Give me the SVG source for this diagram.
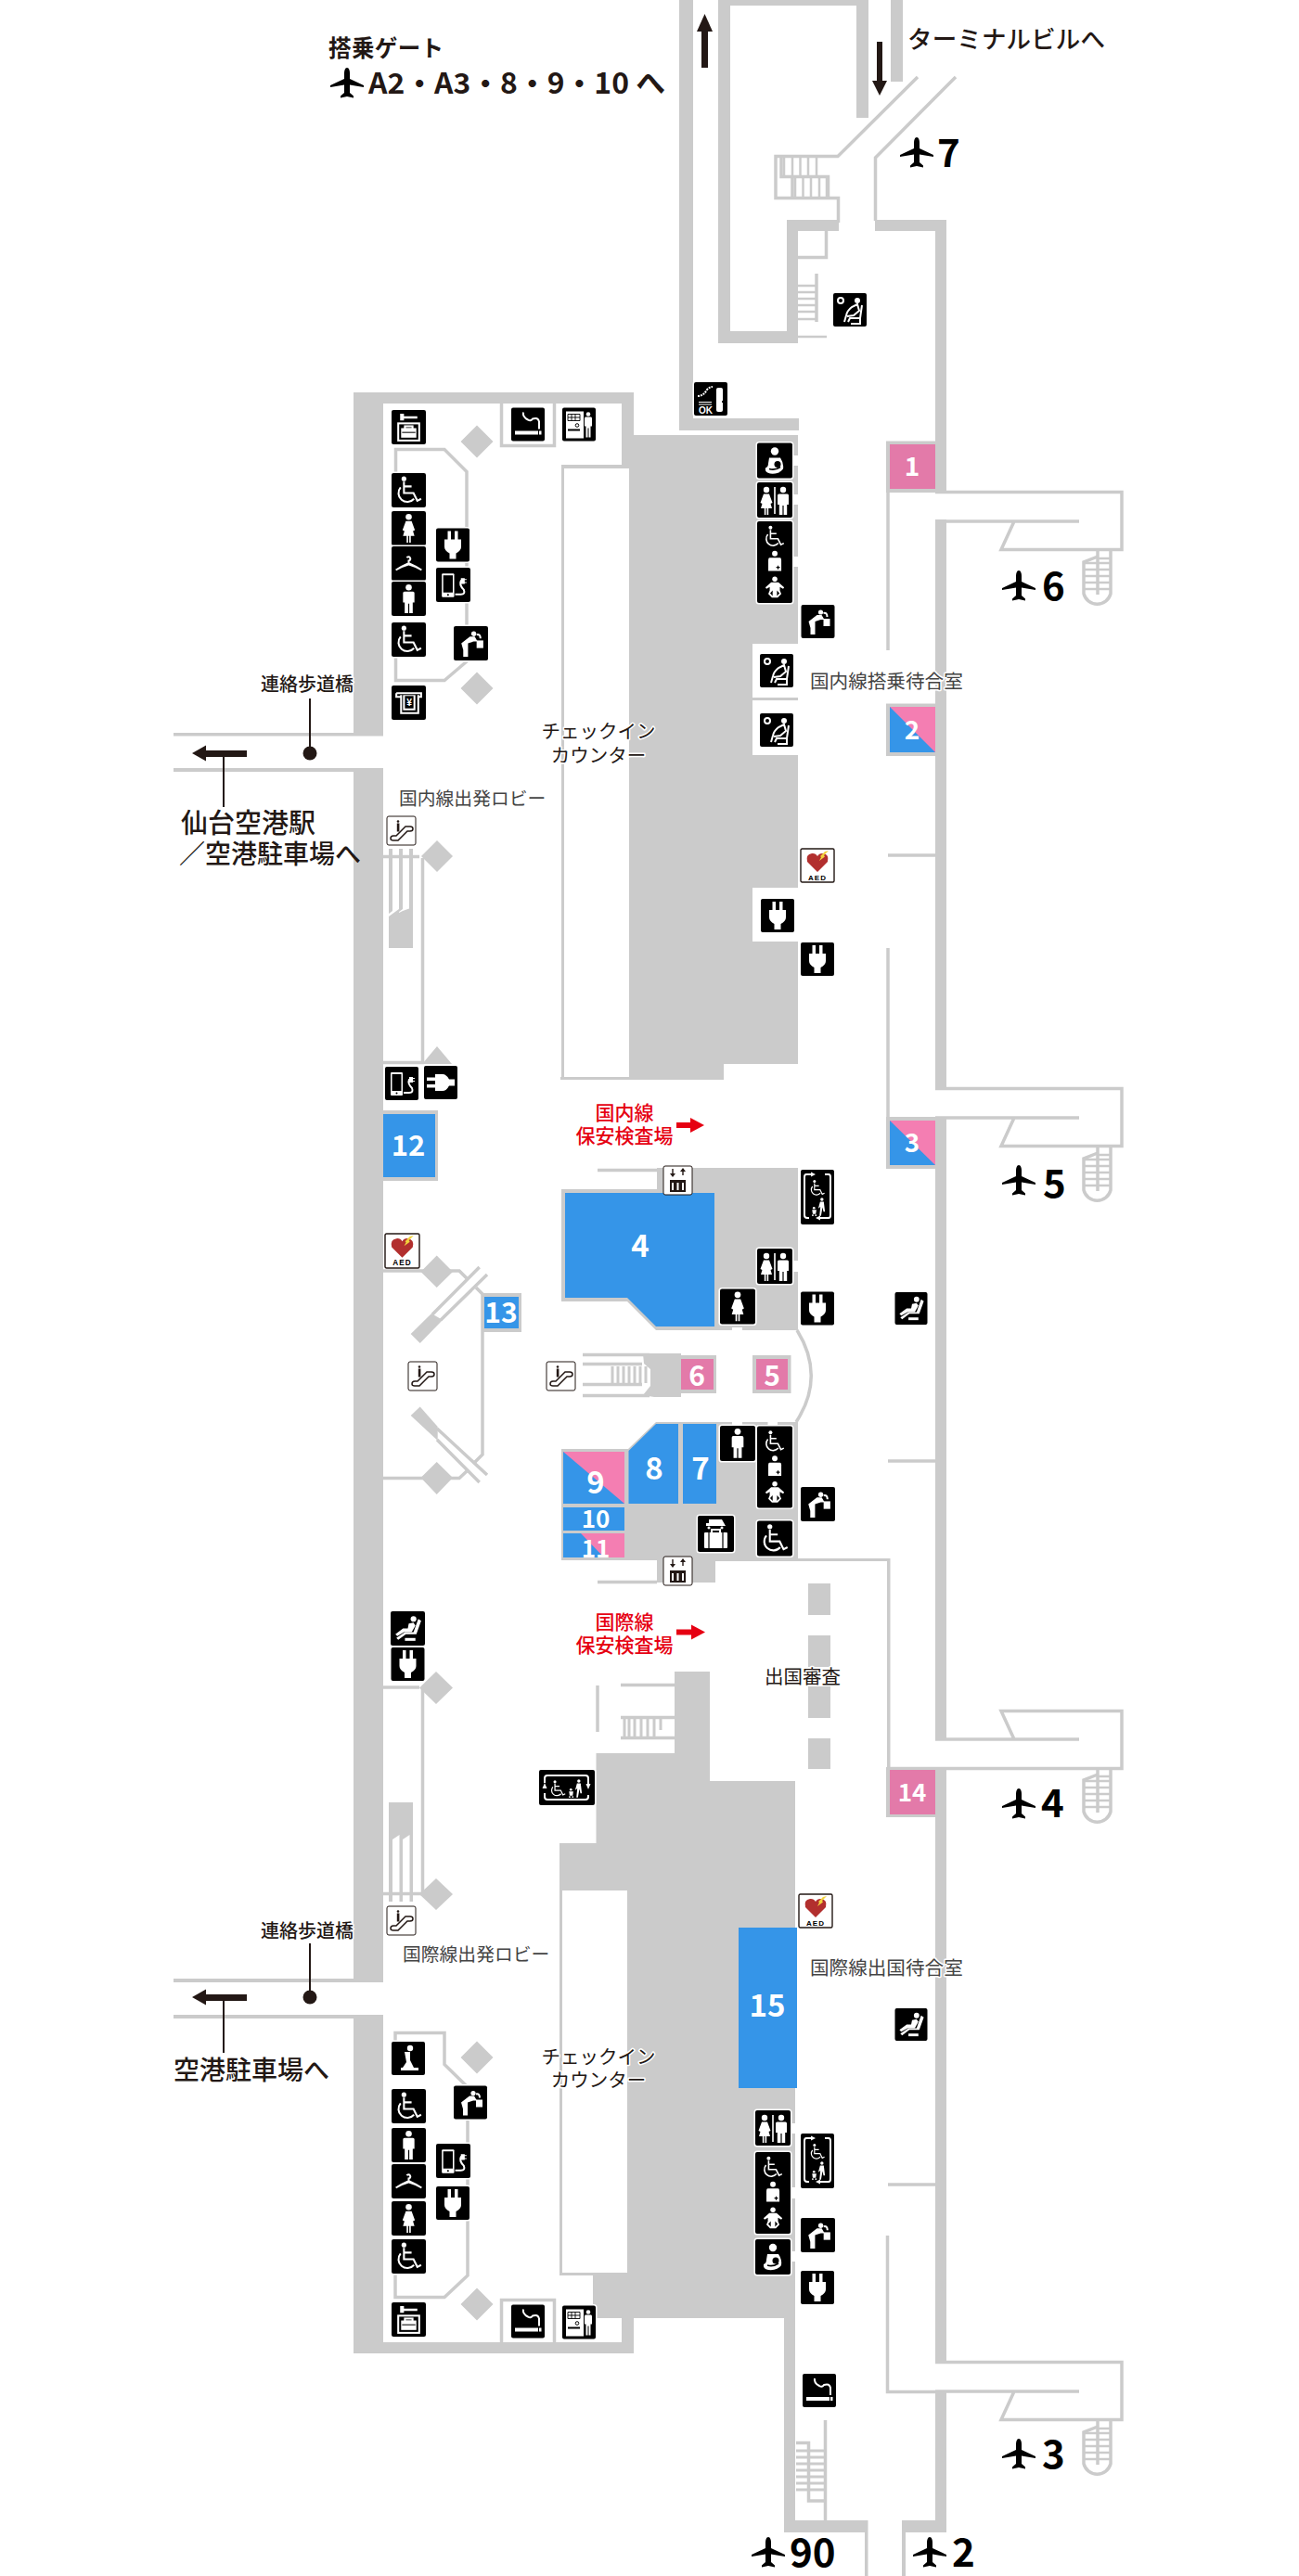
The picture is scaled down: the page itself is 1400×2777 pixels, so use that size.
<svg xmlns="http://www.w3.org/2000/svg" width="1400" height="2777" viewBox="0 0 1400 2777">
<style>
symbol{overflow:visible}
.w{fill:#cbcbcb}
.l{fill:none;stroke:#cbcbcb;stroke-width:3.5}
.bg{fill:#000;stroke:#fff;stroke-width:3;paint-order:stroke}
.wf{fill:#fff}
.ws{fill:none;stroke:#fff;stroke-width:2}
.blue{fill:#3595e8}
.pink{fill:#e37aa9}
.pink2{fill:#f47eb2}
.jp{font-family:"Noto Sans CJK JP","Noto Sans",sans-serif;fill:#231815}
.h{paint-order:stroke;stroke:#fff;stroke-width:3px;stroke-linejoin:round}
.room{font-size:19.800px;fill:#444}
.num{font-family:"Noto Sans CJK JP","Noto Sans",sans-serif;font-weight:700;fill:#fff;text-anchor:middle}
.red{font-size:21px;fill:#e60012;text-anchor:middle;font-weight:500}
.gate{font-size:42px;font-weight:700;fill:#000}
.big{font-size:28px;font-weight:500}
.ln{stroke:#231815;stroke-width:2;fill:none}
.ar{fill:#231815}
</style>
<defs>
<path id="plane" d="M18 0C20 0 21 3 21 6V12L36 19V21L21 18.500V27L25 30.500V32.500L18 31L11 32.500V30.500L15 27V18.500L0 21V19L15 12V6C15 3 16 0 18 0Z" fill="#000"/>
<g id="g-plug" class="wf"><rect x="12.500" y="3" width="3.500" height="10"/><rect x="20" y="3" width="3.500" height="10"/><path d="M9 12H27V20Q27 24 21.500 27V33H14.500V27Q9 24 9 20Z"/></g>
<g id="g-wheel"><circle cx="13" cy="6" r="2.500" class="wf"/><path class="ws" d="M13 9V21H23L27 29L31 27M13 14H21M9.500 15A9 9 0 1 0 23.500 27"/></g>
<g id="g-woman" class="wf"><circle cx="18" cy="6" r="3.200"/><path d="M15 10.500H21L24.500 20L22.500 21L21.500 17.500L24 26H20.200V33H18.600V26H17.400V33H15.800V26H12L14.500 17.500L13.500 21L11.500 20Z"/></g>
<g id="g-man" class="wf"><circle cx="18" cy="6" r="3.200"/><path d="M13.500 10.500H22.500Q24 10.500 24 12V22H22.200V33H18.600V23H17.400V33H13.800V22H12V12Q12 10.500 13.500 10.500Z"/></g>
<g id="g-ost" class="wf"><circle cx="18" cy="6" r="3.800"/><path d="M11 12H25Q27 12 27 15V30H9V15Q9 12 11 12Z"/><path d="M20 24.500h5v1.500h-5zM21.700 22.800h1.500v5h-1.500z" fill="#000"/></g>
<g id="g-baby" class="wf"><circle cx="18" cy="5.500" r="3.500"/><path d="M13 10H23L31 17L29.500 19L25 16.500V21L27 26L22 31H14L9 26L11 21V16.500L6.500 19L5 17Z"/><path d="M15 21L11.500 25L15 29ZM21 21L24.500 25L21 29Z" fill="#000"/></g>
<g id="g-walk" class="wf"><circle cx="24" cy="6" r="2.600"/><path d="M21 10H27L29 26H26.500L25 19L22.500 33H20L21.500 18L18 21Z"/><circle cx="11" cy="20" r="2"/><path d="M8 23H15L14 30H9Z"/><circle cx="9" cy="32" r="1.500"/><circle cx="14" cy="32" r="1.500"/></g>
<symbol id="i-plug" viewBox="0 0 36 36"><rect class="bg" width="36" height="36" rx="2"/><use href="#g-plug"/></symbol>
<symbol id="i-plugh" viewBox="0 0 36 36"><rect class="bg" width="36" height="36" rx="2"/><use href="#g-plug" transform="rotate(-90 18 18)"/></symbol>
<symbol id="i-wheel" viewBox="0 0 36 36"><rect class="bg" width="36" height="36" rx="2"/><use href="#g-wheel"/></symbol>
<symbol id="i-woman" viewBox="0 0 36 36"><rect class="bg" width="36" height="36" rx="2"/><use href="#g-woman"/></symbol>
<symbol id="i-man" viewBox="0 0 36 36"><rect class="bg" width="36" height="36" rx="2"/><use href="#g-man"/></symbol>
<symbol id="i-hanger" viewBox="0 0 36 36"><rect class="bg" width="36" height="36" rx="2"/><path class="ws" d="M16 12A2 2 0 1 1 18 15V17" stroke-width="1.400"/><path class="wf" d="M18 16.500Q26 20 32 24L31 25.500Q25 22 18 20Q11 22 5 25.500L4 24Q10 20 18 16.500Z"/></symbol>
<symbol id="i-water" viewBox="0 0 36 36"><rect class="bg" width="36" height="36" rx="2"/><circle class="wf" cx="21" cy="8" r="2.600"/><path class="wf" d="M8 18L17 11H22L25 16H21L15 18V32H10V25Z"/><path class="wf" d="M24 15H31V23H24Z"/><path class="ws" d="M24 9Q28 8 28 13" stroke-width="1"/></symbol>
<symbol id="i-wait" viewBox="0 0 36 36"><rect class="bg" width="36" height="36" rx="2"/><circle class="ws" cx="8" cy="8" r="3" stroke-width="1.200"/><circle class="wf" cx="26" cy="8" r="3"/><path class="ws" d="M12 31L14 24Q15 19 20 15L26 12L28 19L22 24L15 25M16 31L18 27H29L31 13M29 27V33H19" stroke-width="1.600"/></symbol>
<symbol id="i-massage" viewBox="0 0 36 36"><rect class="bg" width="36" height="36" rx="2"/><circle class="wf" cx="24" cy="8" r="3"/><path class="wf" d="M19 13L24 12L26 15L22 22H14L7 26L5 24L13 18H18Z"/><path class="wf" d="M29 8L32 10L27 24H16L8 30L6 28L15 22H24Z"/><path class="wf" d="M15 28H26V31H15Z"/></symbol>
<symbol id="i-key" viewBox="0 0 36 36"><rect class="bg" width="36" height="36" rx="2"/><path class="wf" d="M9 4H13V6.500H27V9H13V11H9Z"/><rect class="ws" x="7" y="14" width="22" height="18"/><rect class="wf" x="10" y="19" width="16" height="10"/><rect class="ws" x="14" y="17" width="8" height="3" stroke-width="1"/><rect x="11" y="23" width="14" height="1" fill="#000"/></symbol>
<symbol id="i-smoke" viewBox="0 0 36 36"><rect class="bg" width="36" height="36" rx="2"/><rect class="wf" x="4" y="25" width="25" height="4"/><rect class="wf" x="30" y="25" width="2.500" height="4"/><path class="ws" d="M13 5Q12 10 18 13Q21 15 23 12Q29 10 30 15V23"/></symbol>
<symbol id="i-vend" viewBox="0 0 36 36"><rect class="bg" width="36" height="36" rx="2"/><rect class="wf" x="4" y="4" width="19" height="29"/><path d="M6 7H19V14H6ZM10 7V14M14 7V14M6 10.500H19" fill="#fff" stroke="#000" stroke-width=".9"/><circle cx="16" cy="19" r="1.800" fill="none" stroke="#000"/><rect x="6" y="23" width="13" height="2" fill="#000"/><circle class="wf" cx="28" cy="7" r="2.300"/><path class="wf" d="M25 10H31Q32 10 32 12V20H30.500V32H28.500V22H27.500V32H25.500V20H24V12Q24 10 25 10Z"/></symbol>
<symbol id="i-phone" viewBox="0 0 36 36"><rect class="bg" width="36" height="36" rx="2"/><rect class="wf" x="6" y="6" width="13" height="25" rx="1"/><rect x="7.500" y="8" width="10" height="18" fill="#000"/><circle cx="12.500" cy="28.500" r="1" fill="#000"/><path class="ws" d="M20 28H26Q31 28 29 23Q24 18 26 14H28" stroke-width="1.300"/><path class="wf" d="M26 11h4v1h2v1h-2v2h2v1h-2v1h-4z"/></symbol>
<symbol id="i-atm" viewBox="0 0 36 36"><rect class="bg" width="36" height="36" rx="2"/><path class="ws" d="M5 8H31V12H27M5 8V12H9M10 10V29H28V10" stroke-width="1.600"/><rect class="wf" x="12" y="10" width="13" height="16"/><rect x="14" y="11" width="9" height="13" fill="#000"/><text x="18.500" y="21" font-size="10" font-weight="700" fill="#fff" text-anchor="middle" font-family="Liberation Sans,sans-serif">¥</text></symbol>
<symbol id="i-nurse" viewBox="0 0 38 38"><rect class="bg" width="38" height="38" rx="2"/><circle class="wf" cx="19" cy="9" r="4.200"/><path class="wf" d="M13 16H25Q29 22 28 28Q24 34 14 33Q8 32 9 27Q12 26 12 22Z"/><circle cx="22" cy="23" r="3.500" fill="#000"/><path d="M13 28Q19 30 25 26" stroke="#000" stroke-width="1.600" fill="none"/></symbol>
<symbol id="i-wc" viewBox="0 0 38 38"><rect class="bg" width="38" height="38" rx="2"/><use href="#g-woman" transform="translate(-8,2)"/><use href="#g-man" transform="translate(10,2)"/><rect class="wf" x="18.200" y="5" width="1.600" height="29"/></symbol>
<symbol id="i-three" viewBox="0 0 38 88"><rect class="bg" width="38" height="88" rx="2"/><use href="#g-wheel" transform="translate(4,2) scale(.8)"/><use href="#g-ost" transform="translate(5,30) scale(.78)"/><use href="#g-baby" transform="translate(5,58) scale(.78)"/></symbol>
<symbol id="i-elevv" viewBox="0 0 36 59"><rect class="bg" width="36" height="59" rx="2"/><path class="ws" d="M11 5H6Q4 5 4 8V49Q4 52 7 52H9M26 5H30Q32 5 32 8V49Q32 52 30 52H18" stroke-width="1.400"/><path class="wf" d="M11 2.500L16 5L11 7.500ZM21 49.500L16 52L21 54.500Z"/><use href="#g-wheel" transform="translate(7,9) scale(.6)"/><use href="#g-walk" transform="translate(7,28) scale(.66)"/></symbol>
<symbol id="i-elevh" viewBox="0 0 60 38"><rect class="bg" width="60" height="38" rx="2"/><path class="ws" d="M6 14V9Q6 6 9 6H50Q53 6 53 9V15M6 25V29Q6 32 9 32H50Q53 32 53 29V27" stroke-width="1.400"/><path class="wf" d="M3.500 20L6 14L8.500 20ZM50.500 15L53 21L55.500 15Z"/><use href="#g-wheel" transform="translate(9,9) scale(.62)"/><use href="#g-walk" transform="translate(27,8) scale(.66)"/></symbol>
<symbol id="i-aed" viewBox="0 0 36 36"><rect width="36" height="36" rx="1.500" fill="#fff" stroke="#231815" stroke-width="1.400"/><path d="M18 25L7 14Q5 6 12 5Q16 4.500 18 8Q20 4.500 24 5Q31 6 29 14Z" fill="#b22f2e"/><path d="M30 2L25 7L26 8.500L20 13L22 9L21 8L26 3Z" fill="#f2d33c"/><text x="18" y="33.500" font-size="8" font-weight="700" text-anchor="middle" fill="#000" letter-spacing="1" font-family="Liberation Sans,sans-serif">AED</text></symbol>
<symbol id="i-esc" viewBox="0 0 31 31"><rect width="31" height="31" rx="2" fill="#fff" stroke="#231815" stroke-width="1"/><path d="M4 24Q4 21 7 21H10L20 11H25Q28 11 28 13.500Q28 16 25 16H22L12 26H7Q4 26 4 24Z" fill="none" stroke="#231815" stroke-width="1.500"/><circle cx="12" cy="5.500" r="1.300" fill="#231815"/><rect x="10.800" y="7.500" width="2.600" height="9" fill="#231815"/></symbol>
<symbol id="i-lift" viewBox="0 0 31 31"><rect width="31" height="31" rx="2" fill="#fff" stroke="#231815" stroke-width="1"/><path d="M10 3V10M21 10V3" stroke="#231815" stroke-width="1.400"/><path d="M7 8L10 12L13 8ZM18 6L21 2L24 6Z" fill="#231815"/><rect x="7" y="15" width="17" height="13" fill="#231815"/><path d="M9 18h2v8h-2zM14.500 18h2v8h-2zM20 18h2v8h-2z" fill="#fff"/></symbol>
<symbol id="i-bag" viewBox="0 0 39 39"><rect class="bg" width="39" height="39" rx="2"/><path class="wf" d="M12 4H26L30 11H9V8H12ZM12 11.500a1.500 1.500 0 1 0 .01 0ZM26 11.500a1.500 1.500 0 1 0 .01 0Z"/><path class="ws" d="M15 18V15H24V18" stroke-width="1.600"/><rect class="wf" x="7" y="18" width="25" height="17" rx="1"/><path d="M12 18V35M27 18V35" stroke="#000" stroke-width="1.200"/></symbol>
<symbol id="i-kneel" viewBox="0 0 36 36"><rect class="bg" width="36" height="36" rx="2"/><circle class="wf" cx="20" cy="7" r="3.200"/><path class="wf" d="M14 11H20V20L24 28H29V31H10V28H12L16 22Z"/></symbol>
<symbol id="i-ok" viewBox="0 0 36 36"><rect class="bg" width="36" height="36" rx="2"/><path class="ws" d="M4 15Q10 15 14 8Q17 5 20 5" stroke-width="1" stroke-dasharray="2 1"/><rect class="wf" x="24" y="6" width="7" height="26" rx="2"/><path d="M30 20h1v2h-1z" fill="#000"/><path class="wf" d="M5 21h14v1H5zM5 23.500h14v1H5z"/><text x="12.500" y="34" font-size="10" font-weight="700" fill="#fff" text-anchor="middle" font-family="Liberation Sans,sans-serif">OK</text></symbol>
<g id="stair"><path class="l" d="M1197 594V640A15 15 0 0 1 1168 640V606L1183 600"/><path class="l" d="M1183 594V641"/><path d="M1168 607H1197M1183 602H1197M1168 614H1197M1168 621H1197M1168 628H1197M1168 635H1197" stroke="#cbcbcb" stroke-width="2.500"/></g>
<g id="jet"><path class="l" d="M1008 530.500H1209V592.500H1079L1093 562M1008 562H1163"/><use href="#stair"/></g>
</defs>

<g id="connectors">
<rect class="w" x="732" y="0" width="15" height="464"/><rect class="w" x="732" y="451" width="129" height="13"/>
<rect class="w" x="774" y="0" width="13" height="370"/><rect class="w" x="774" y="0" width="162" height="6"/>
<rect class="w" x="923" y="0" width="13" height="127"/><rect class="w" x="960" y="0" width="13" height="88"/>
<rect class="w" x="774" y="357" width="86" height="13"/><rect class="w" x="848" y="237" width="12" height="133"/><rect class="w" x="848" y="237" width="56" height="12"/>
<path class="l" d="M989 83L903 168.500H836V213.500H903.500V240"/><path class="l" d="M1030 83L943.500 170V238"/>
<path class="l" d="M842 170V190.500H892.500V213M854 190.500V213" stroke-width="2.500"/>
<path d="M845 170v20M854 170v20M862.500 170v20M871 170v20M880 170v20M857 192v20M865.500 192v20M874 192v20M883 192v20M891 192v20" stroke="#cbcbcb" stroke-width="2.500"/>
<path class="l" d="M860 277.500H890.500V249" stroke-width="2.500"/><path class="l" d="M880 295V347" stroke-width="2.500"/>
<path d="M860 308H879M860 315H879M860 322H879M860 329H879M860 336H879M860 344H879M860 363H891" stroke="#cbcbcb" stroke-width="2.500"/>
<rect class="w" x="943" y="237" width="76" height="12"/>
<rect class="w" x="1008" y="237" width="12" height="292"/><rect class="w" x="1008" y="560" width="12" height="613"/><rect class="w" x="1008" y="1205" width="12" height="670"/><rect class="w" x="1008" y="1906" width="12" height="640"/><rect class="w" x="1008" y="2578" width="12" height="152"/>
<use href="#jet"/><use href="#jet" y="643"/><use href="#jet" y="2016"/>
<path class="l" d="M1008 1875H1163M1093 1875L1079 1844.500H1209V1906.500H957"/><use href="#stair" y="1313"/>

<rect class="w" x="381" y="423" width="32" height="370"/><rect class="w" x="381" y="828" width="32" height="1309"/><rect class="w" x="381" y="2172" width="32" height="365"/>
<rect class="w" x="381" y="423" width="302" height="12"/><rect class="w" x="670" y="423" width="13" height="82"/>
<rect class="w" x="187" y="790" width="226" height="3.500"/><rect class="w" x="187" y="828" width="226" height="4"/><rect class="w" x="187" y="2133" width="226" height="4"/><rect class="w" x="187" y="2172" width="226" height="4"/>
<path class="l" d="M540.500 435V480.500H597.500V435"/>
<path class="l" d="M426.500 510V484.500H479L503 508.500V713L479 733.500H426.500V700"/>
<path class="w" d="M514 458.500L531.500 476L514 493.500L496.500 476ZM514 724.500L531.500 742L514 759.500L496.500 742Z"/>

<path class="w" d="M678 469H860V1147H780V1164H604V1161H678V505H608V1161H605V501H678Z"/>
<rect fill="#fff" x="811" y="694" width="49.500" height="58"/><rect fill="#fff" x="811" y="755" width="49.500" height="59"/><rect fill="#fff" x="811" y="957" width="49.500" height="58"/>
<rect fill="#fff" x="855" y="491" width="6" height="11"/><rect fill="#fff" x="855" y="533" width="6" height="11"/><rect fill="#fff" x="855" y="600" width="6" height="11"/>

<path class="l" d="M413 923.500H452M455.500 925V1145.500H413"/><path class="w" d="M471 906L488 923L471 940L454 923ZM471 1128L487 1147H455Z"/>
<path class="w" d="M419 985L423 982V915H419ZM430 983L434 980V915H430ZM441 985L445 982V915H441Z"/><path class="w" d="M419 988L430 980V984L434 982L445 978V1022H419Z"/>

<path class="l" d="M413 1370H495L503 1378M513 1388L520 1395V1568L511 1577M503 1586L495 1593.500H413"/>
<path class="w" d="M470.700 1353.500L488 1371L470.700 1388L453.500 1371ZM470.700 1576L488 1593L470.700 1611L453.500 1593Z"/>
<path class="l" d="M516.700 1366L466 1417M525 1374L475 1423"/><path class="w" d="M442.700 1438L452.700 1448L477 1423L465 1416Z"/>
<path class="l" d="M516.700 1598L471 1552M525 1590L471 1540"/><path class="w" d="M442.700 1526L452.700 1516.500L471.700 1538V1553Z"/>

<path class="w" d="M708 1259H860V1434H707L676 1403H605V1282H708Z"/>
<rect fill="#fff" x="854" y="1359" width="7" height="12"/>
<rect fill="#fff" x="789" y="1431" width="11" height="4"/>
<path class="l" d="M644 1261.500H708"/>
<path class="l" d="M859 1434Q890 1484 858 1533"/>
<path class="w" d="M707 1533H860V1680H958V1683H771V1706H708V1682H605V1562H677Z"/>
<rect fill="#fff" x="789" y="1532" width="11" height="4"/><rect fill="#fff" x="827.500" y="1532" width="10.500" height="4"/>
<path class="l" d="M644 1705.500H708"/>
<rect class="w" x="956" y="1680" width="3.500" height="226"/>
<path class="l" d="M957 527V701" /><path class="l" d="M957 1022V1206"/><path class="l" d="M957 922H1008M957 1575H1008M957 2355H1008"/><path class="l" d="M956.500 2410V2578.500H1008"/>

<path class="l" d="M628 1460.500H700M628 1470.500H692M628 1492.500H692M628 1504.500H700" />
<path d="M660 1473v18M666 1473v18M672 1473v18M678 1473v18M684 1473v18M690 1473v18M696 1473v18" stroke="#cbcbcb" stroke-width="3"/>
<path class="w" d="M693 1459H734V1506H705L693 1504L701 1494V1476L694 1470Z"/>

<path class="l" d="M669 1816.500H727M669 1851.500H727M669 1873.500H727M644 1817V1867"/>
<path d="M673 1853v19M678 1853v19M684 1853v19M691 1853v19M698 1853v19M705 1853v19M712 1853v12" stroke="#cbcbcb" stroke-width="3"/>
<path class="w" d="M727 1802H765V1920H857V2730H845V2499H639V2453H603V1987H642.500V1890H727Z"/>
<rect fill="#fff" x="606" y="2038" width="70" height="412"/>
<rect fill="#fff" x="853" y="2289" width="5" height="11"/><rect fill="#fff" x="853" y="2358" width="5" height="12"/><rect fill="#fff" x="853" y="2427" width="5" height="11"/>
<rect class="w" x="871" y="1707" width="24" height="34"/><rect class="w" x="871" y="1763" width="24" height="34"/><rect class="w" x="871" y="1818" width="24" height="34"/><rect class="w" x="871" y="1874" width="24" height="33"/>

<path class="l" d="M413 1819H452M455.500 1819V2041.500H413"/><path class="w" d="M470 1802L488 1819.500L470 1837L452 1819.500ZM470 2025L488 2042L470 2059L452 2042Z"/>
<path class="w" d="M419 1943H445V2050H441.500V1978L434 1983V2050H430.500V1978L423 1983V2050H419Z"/>

<path class="l" d="M426 2238V2191.500H479V2225.500L504 2250V2453L479 2476.500H426V2451"/>
<path class="w" d="M514 2200.500L531.500 2218L514 2235.500L496.500 2218ZM514 2466.500L531.500 2484L514 2501.500L496.500 2484Z"/>
<path class="l" d="M540.500 2525V2479.500H597.500V2525"/>
<rect class="w" x="381" y="2525" width="302" height="12"/><rect class="w" x="670" y="2499" width="13" height="38"/>
<rect class="w" x="845" y="2717" width="90" height="13"/><rect class="w" x="932" y="2717" width="3.500" height="60"/><rect class="w" x="972" y="2717" width="48" height="13"/><rect class="w" x="972" y="2717" width="4" height="60"/>
<path class="l" d="M889.500 2609V2717M858 2633.500H871.500V2696H889" stroke-width="3"/>
<path d="M858 2642h12M858 2649h12M858 2656h12M858 2663h12M858 2670h12M858 2677h12M858 2684h12M873 2642h15M873 2649h15M873 2656h15M873 2663h15M873 2670h15M873 2677h15M873 2684h15" stroke="#cbcbcb" stroke-width="3"/>
<rect class="ar" x="756" y="30" width="7" height="43"/><path class="ar" d="M759.500 15L768 34H751Z"/>
<rect class="ar" x="945" y="45" width="6" height="44"/><path class="ar" d="M948 103L956 87H940Z"/>
<path class="ar" d="M207 812L222 803.500V809H266V816H222V820.500Z"/><path class="ar" d="M207 2153L222 2144.500V2150H266V2157H222V2161.500Z"/>
<path class="ln" d="M241 816V870M241 2157V2213M334 753V812M334 2095V2153"/><circle class="ar" cx="334" cy="812" r="7.500"/><circle class="ar" cx="334" cy="2153" r="7.500"/>
<path d="M729 1213H748" stroke="#e60012" stroke-width="6"/><path d="M759 1213L744 1205V1221Z" fill="#e60012"/>
<path d="M729 1759.500H748" stroke="#e60012" stroke-width="6"/><path d="M760 1759.500L745 1751.500V1767.500Z" fill="#e60012"/>
</g>

<g id="gate-1"><rect class="w" x="955" y="475.500" width="53" height="55.500"/><rect class="pink" x="959" y="479" width="49" height="48"/><text class="num" x="983" y="513" font-size="28">1</text></g>
<g id="gate-2"><rect class="w" x="955" y="758.500" width="53" height="56.500"/><rect class="blue" x="959" y="762" width="49" height="49"/><path class="pink2" d="M959 762H1008V811Z"/><text class="num" x="983" y="797" font-size="28">2</text></g>
<g id="gate-3"><rect class="w" x="955" y="1204" width="53" height="56"/><rect class="blue" x="959" y="1208" width="49" height="48"/><path class="pink2" d="M959 1208H1008V1256Z"/><text class="num" x="983" y="1242" font-size="28">3</text></g>
<g id="gate-12"><rect class="w" x="413" y="1197" width="59" height="76"/><rect class="blue" x="413" y="1201" width="56" height="68"/><text class="num" x="440" y="1246" font-size="31">12</text></g>
<g id="gate-13"><rect class="w" x="519" y="1394" width="43" height="42"/><rect class="blue" x="522" y="1398" width="37" height="34"/><text class="num" x="540" y="1426" font-size="30">13</text></g>
<g id="gate-4"><path class="blue" d="M609 1286H770V1430H707L676 1399H609Z"/><text class="num" x="690" y="1355" font-size="33">4</text></g>
<g id="gate-6"><rect class="w" x="734" y="1461" width="38" height="41"/><rect class="pink" x="734" y="1465" width="35" height="33"/><text class="num" x="751" y="1494" font-size="30">6</text></g>
<g id="gate-5"><rect class="w" x="811" y="1461" width="41.500" height="41"/><rect class="pink" x="815" y="1465" width="34" height="33"/><text class="num" x="832" y="1494" font-size="30">5</text></g>
<g id="gate-9"><rect class="blue" x="607" y="1565" width="66" height="56"/><path class="pink2" d="M607 1565H673V1621Z"/><text class="num" x="642" y="1610" font-size="33">9</text></g>
<g id="gate-8"><path class="blue" d="M677.500 1564L707 1535H731V1621H677.500Z"/><text class="num" x="705" y="1595" font-size="33">8</text></g>
<g id="gate-7"><rect class="blue" x="736" y="1535" width="36" height="86"/><text class="num" x="755" y="1595" font-size="33">7</text></g>
<g id="gate-10"><rect class="blue" x="607" y="1625" width="66" height="25"/><text class="num" x="642" y="1647" font-size="26">10</text></g>
<g id="gate-11"><rect class="blue" x="607" y="1653" width="66" height="26"/><path class="pink2" d="M626 1653H673V1679H651Z"/><text class="num" x="642" y="1679" font-size="26">11</text></g>
<g id="gate-14"><rect class="w" x="955" y="1905" width="53" height="54"/><rect class="pink" x="959" y="1908" width="49" height="48"/><text class="num" x="983" y="1942" font-size="26">14</text></g>
<g id="gate-15"><rect class="blue" x="796" y="2078" width="63" height="173"/><text class="num" x="827" y="2174" font-size="33">15</text></g>

<g id="icons">
<use href="#i-key" x="422" y="442" width="37" height="37"/><use href="#i-smoke" x="551" y="439" width="36" height="37"/><use href="#i-vend" x="606" y="439" width="36" height="37"/>
<use href="#i-wheel" x="422" y="510" width="37" height="37"/><use href="#i-woman" x="422" y="551" width="37" height="37"/><use href="#i-hanger" x="422" y="589" width="37" height="37"/><use href="#i-man" x="422" y="627" width="37" height="37"/><use href="#i-wheel" x="422" y="671" width="37" height="37"/><use href="#i-atm" x="422" y="739" width="37" height="37"/>
<use href="#i-plug" x="470" y="569" width="36" height="37"/><use href="#i-phone" x="470" y="612" width="37" height="37"/><use href="#i-water" x="489" y="675" width="37" height="37"/>
<use href="#i-esc" x="417" y="880" width="31" height="31"/>
<use href="#i-ok" x="748" y="412" width="36" height="36"/>
<use href="#i-wait" x="898" y="316" width="36" height="36"/>
<use href="#i-nurse" x="816" y="477" width="38" height="39"/><use href="#i-wc" x="816" y="520" width="38" height="38"/><use href="#i-three" x="816" y="562" width="38" height="88"/>
<use href="#i-water" x="863" y="652" width="37" height="36"/><use href="#i-wait" x="819" y="705" width="36" height="36"/><use href="#i-wait" x="819" y="769" width="36" height="36"/>
<use href="#i-aed" x="863" y="915" width="36" height="36"/><use href="#i-plug" x="820" y="969" width="36" height="36"/><use href="#i-plug" x="863" y="1016" width="36" height="36"/>
<use href="#i-phone" x="415" y="1150" width="36" height="36"/><use href="#i-plugh" x="457" y="1149" width="36" height="36"/>
<use href="#i-aed" x="415" y="1330" width="37" height="37"/><use href="#i-esc" x="440" y="1468" width="31" height="31"/><use href="#i-esc" x="589" y="1468" width="31" height="31"/>
<use href="#i-lift" x="715" y="1257" width="31" height="31"/><use href="#i-elevv" x="863" y="1261" width="36" height="59"/><use href="#i-wc" x="816" y="1346" width="38" height="38"/><use href="#i-woman" x="776" y="1389" width="38" height="39"/><use href="#i-plug" x="863" y="1392" width="36" height="37"/>
<use href="#i-massage" x="964" y="1393" width="36" height="35"/>
<use href="#i-man" x="776" y="1537" width="38" height="38"/><use href="#i-three" x="816" y="1537" width="38" height="89"/><use href="#i-water" x="863" y="1603" width="37" height="37"/><use href="#i-wheel" x="816" y="1639" width="38" height="39"/><use href="#i-bag" x="752" y="1634" width="39" height="39"/><use href="#i-lift" x="715" y="1678" width="31" height="31"/>
<use href="#i-massage" x="421" y="1737" width="37" height="37"/><use href="#i-plug" x="421" y="1776" width="37" height="36"/>
<use href="#i-elevh" x="581" y="1908" width="60" height="38"/><use href="#i-esc" x="417" y="2055" width="31" height="31"/><use href="#i-aed" x="861" y="2042" width="36" height="36"/><use href="#i-massage" x="964" y="2165" width="36" height="35"/>
<use href="#i-kneel" x="422" y="2201" width="36" height="36"/><use href="#i-wheel" x="422" y="2252" width="37" height="37"/><use href="#i-man" x="422" y="2294" width="37" height="37"/><use href="#i-hanger" x="422" y="2333" width="37" height="37"/><use href="#i-woman" x="422" y="2373" width="37" height="37"/><use href="#i-wheel" x="422" y="2414" width="37" height="37"/>
<use href="#i-water" x="489" y="2248" width="36" height="37"/><use href="#i-phone" x="470" y="2311" width="37" height="37"/><use href="#i-plug" x="470" y="2357" width="36" height="36"/>
<use href="#i-key" x="422" y="2482" width="37" height="37"/><use href="#i-smoke" x="551" y="2484" width="36" height="37"/><use href="#i-vend" x="606" y="2485" width="36" height="37"/>
<use href="#i-wc" x="814" y="2275" width="38" height="38"/><use href="#i-three" x="814" y="2320" width="38" height="88"/><use href="#i-nurse" x="814" y="2414" width="38" height="38"/>
<use href="#i-elevv" x="863" y="2300" width="36" height="59"/><use href="#i-water" x="863" y="2391" width="37" height="37"/><use href="#i-plug" x="863" y="2448" width="36" height="36"/><use href="#i-smoke" x="865" y="2559" width="36" height="36"/>
</g>

<g id="planes">
<use href="#plane" transform="translate(356,73)"/>
<use href="#plane" transform="translate(970,148)"/>
<use href="#plane" transform="translate(1080,615)"/>
<use href="#plane" transform="translate(1080,1256)"/>
<use href="#plane" transform="translate(1080,1928)"/>
<use href="#plane" transform="translate(1080,2629)"/>
<use href="#plane" transform="translate(810,2735)"/>
<use href="#plane" transform="translate(984,2735)"/>
</g>

<g id="labels">
<text class="jp" x="354" y="61" font-size="24.500" font-weight="700" textLength="124">搭乗ゲート</text>
<text class="jp" x="397" y="101" font-size="31" font-weight="700" textLength="320" lengthAdjust="spacingAndGlyphs" fill="#000">A2・A3・8・9・10 へ</text>
<text class="jp" x="978" y="52" font-size="26.500" font-weight="500" textLength="213">ターミナルビルへ</text>
<text class="jp gate" x="1010" y="180">7</text><text class="jp gate" x="1123" y="647">6</text><text class="jp gate" x="1124" y="1291">5</text><text class="jp gate" x="1122" y="1959">4</text><text class="jp gate" x="1123" y="2661">3</text><text class="jp gate" x="851" y="2767">90</text><text class="jp gate" x="1026" y="2767">2</text>
<text class="jp h" x="281" y="745" font-size="20" font-weight="500">連絡歩道橋</text>
<text class="jp h" x="281" y="2089" font-size="20" font-weight="500">連絡歩道橋</text>
<text class="jp big" x="195" y="898" style="font-size:29px">仙台空港駅</text>
<text class="jp big" x="193" y="931">／空港駐車場へ</text>
<text class="jp big" x="187" y="2242">空港駐車場へ</text>
<text class="jp room" x="430" y="868">国内線出発ロビー</text>
<text class="jp room" x="434" y="2114">国際線出発ロビー</text>
<text class="jp h" x="645" y="796" font-size="20.500" text-anchor="middle">チェックイン</text>
<text class="jp h" x="645" y="822" font-size="20.500" text-anchor="middle">カウンター</text>
<text class="jp h" x="645" y="2225" font-size="20.500" text-anchor="middle">チェックイン</text>
<text class="jp h" x="645" y="2250" font-size="20.500" text-anchor="middle">カウンター</text>
<text class="jp room h" x="873" y="742" style="font-size:20.600px">国内線搭乗待合室</text>
<text class="jp room h" x="873" y="2129" style="font-size:20.600px">国際線出国待合室</text>
<text class="jp h" x="824" y="1815" font-size="20.500">出国審査</text>
<text class="jp red" x="673" y="1207">国内線</text><text class="jp red" x="673" y="1232">保安検査場</text>
<text class="jp red" x="673" y="1756">国際線</text><text class="jp red" x="673" y="1781">保安検査場</text>
</g>
</svg>
